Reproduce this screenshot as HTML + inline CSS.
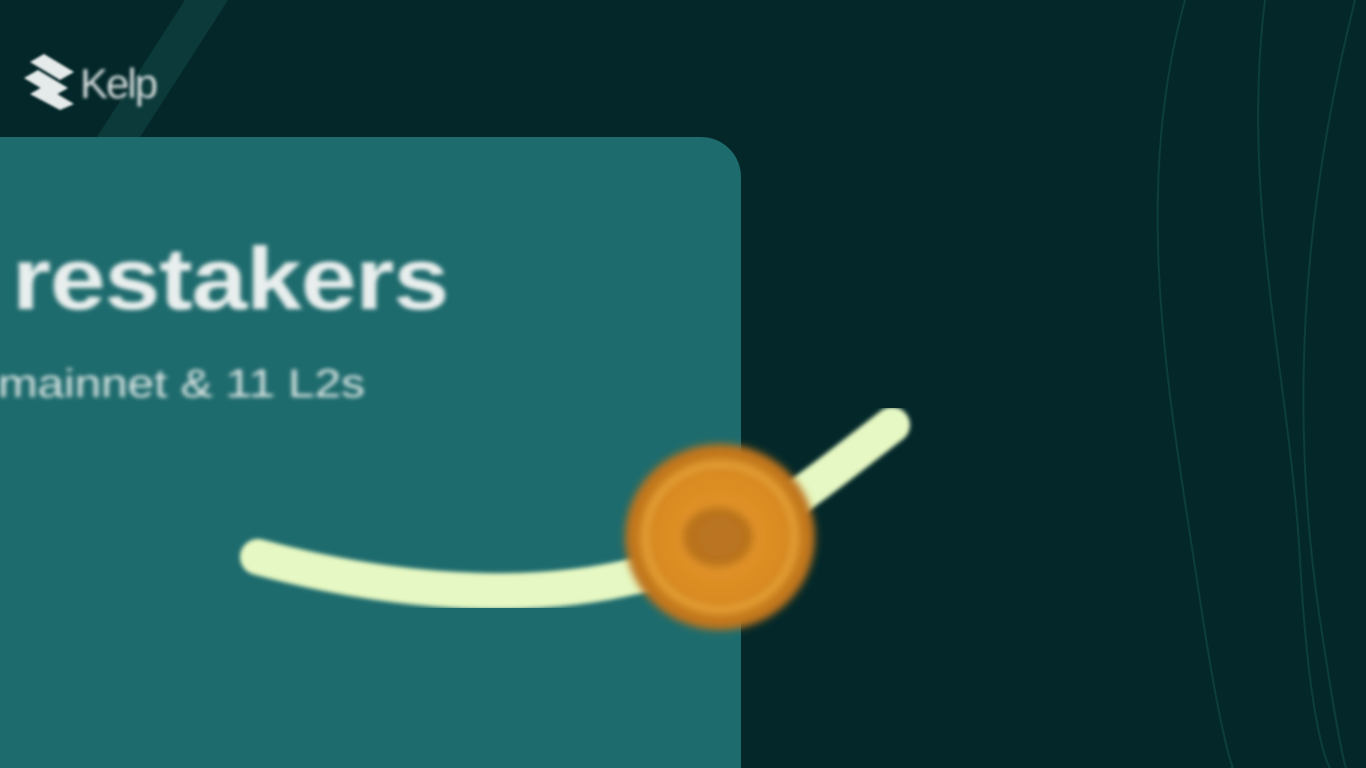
<!DOCTYPE html>
<html><head><meta charset="utf-8"><style>
html,body{margin:0;padding:0;width:1366px;height:768px;overflow:hidden;background:#04282a;}
#stage{position:relative;width:1366px;height:768px;overflow:hidden;background:#04282a;font-family:"Liberation Sans",sans-serif;}
.card{position:absolute;left:-40px;top:137px;width:781px;height:631px;background:#1e6b6d;border-top-right-radius:40px;}
.h1{position:absolute;left:12px;top:228px;font-size:88px;font-weight:bold;color:#e9efee;filter:blur(2px);letter-spacing:-1px;transform:scaleX(1.14);transform-origin:left top;white-space:nowrap;}
.h2{position:absolute;left:-2px;top:362px;font-size:40px;color:#dfe8e7;filter:blur(2px);letter-spacing:0;transform:scaleX(1.19);transform-origin:left top;white-space:nowrap;}
.logo-text{position:absolute;left:80px;top:60px;font-size:42px;color:#cfd8d8;filter:blur(1.5px);letter-spacing:-2px;}
</style></head><body>
<div id="stage">
<svg width="1366" height="768" style="position:absolute;left:0;top:0">
  <polygon points="185,0 228,0 140,137 97,137" fill="#0c3a3a"/>
  <g fill="none" stroke="#0d3d3c" stroke-width="2">
    <path d="M1185,0 C1130,200 1170,400 1200,600 S1240,768 1230,768"/>
    <path d="M1265,0 C1240,200 1290,380 1300,560 S1330,768 1330,768"/>
    <path d="M1355,0 C1300,220 1290,420 1320,620 S1350,768 1350,768"/>
  </g>
</svg>
<div class="card"></div>
<svg width="60" height="60" style="position:absolute;left:22px;top:52px;filter:blur(1px)">
  <polygon points="8,10 22,2 52,20 38,28" fill="#e5eaea"/>
  <polygon points="2,26 16,18 46,36 32,44" fill="#e5eaea"/>
  <polygon points="8,42 22,34 52,52 38,58" fill="#e5eaea"/>
</svg>
<div class="logo-text">Kelp</div>
<div class="h1">restakers</div>
<div class="h2">mainnet &amp; 11 L2s</div>
<svg width="1366" height="768" style="position:absolute;left:0;top:0">
  <defs>
    <radialGradient id="cg" cx="50%" cy="50%" r="50%">
      <stop offset="0" stop-color="#e89a2a"/>
      <stop offset="0.7" stop-color="#d98a22"/>
      <stop offset="1" stop-color="#b8701a"/>
    </radialGradient>
    <filter id="b2"><feGaussianBlur stdDeviation="2"/></filter>
    <filter id="b4"><feGaussianBlur stdDeviation="4"/></filter>
  </defs>
  <path d="M258,557 C380,590 520,605 640,575 C740,550 820,480 892,425" fill="none" stroke="#e6f8c3" stroke-width="36" stroke-linecap="round" filter="url(#b2)"/>
  <g filter="url(#b4)">
    <ellipse cx="720" cy="537" rx="95" ry="93" fill="url(#cg)"/>
    <ellipse cx="720" cy="537" rx="75" ry="73" fill="none" stroke="#f0b040" stroke-width="4"/>
    <ellipse cx="718" cy="537" rx="35" ry="30" fill="#a8651c" opacity="0.7"/>
  </g>
</svg>
</div>
</body></html>
